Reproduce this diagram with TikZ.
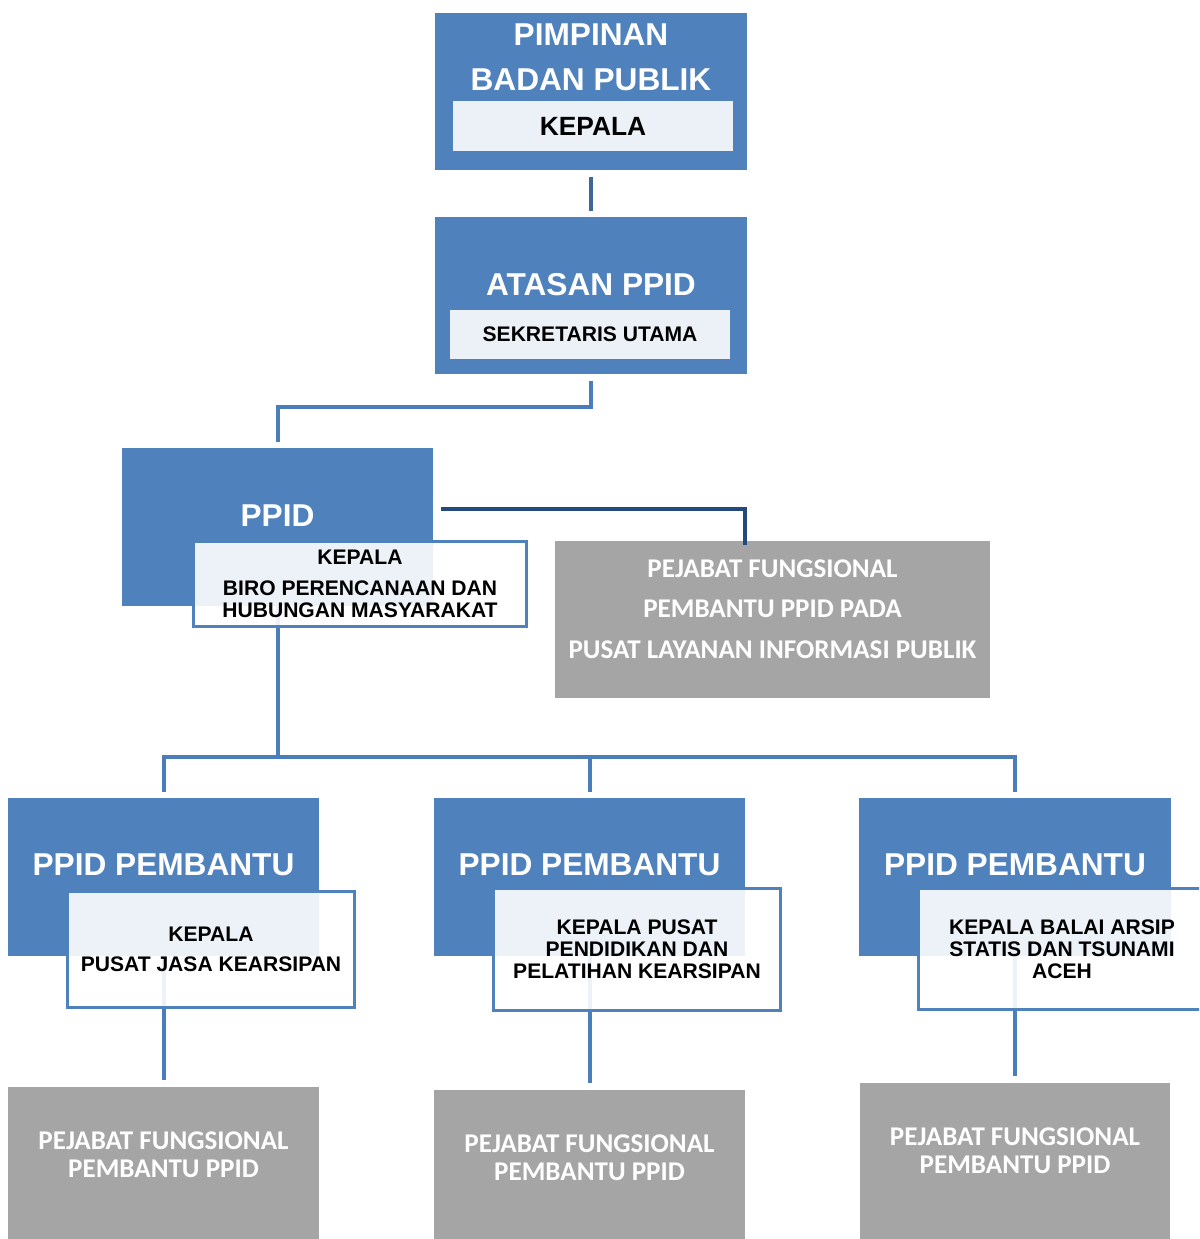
\documentclass[tikz,border=0pt]{standalone}
\usepackage{fontspec}
\setmainfont{Liberation Sans}
\newfontfamily\calibri{Carlito}
\usepackage{xcolor}
\usepackage{tikz}
\definecolor{boxblue}{HTML}{4F81BD}
\definecolor{lineblue}{HTML}{4A7EBB}
\definecolor{linemid}{HTML}{3D6797}
\definecolor{linedark}{HTML}{24497E}
\definecolor{paleblue}{HTML}{ECF1F8}
\definecolor{boxgrey}{HTML}{A5A5A5}

\begin{document}
\begin{tikzpicture}[x=0.02cm, y=-0.02cm,
  bluebox/.style={fill=boxblue, text=white, align=center, inner sep=0pt, minimum width=6.24cm, minimum height=3.16cm, text depth=#1, font=\bfseries\fontsize{18}{26}\selectfont},
  bluebox/.default=0.48cm,
  namebox/.style={fill=paleblue, inner sep=0pt, minimum width=5.6cm, minimum height=1cm},
  headbox/.style={draw=boxblue, line width=0.06cm, fill=white, fill opacity=0.9, text opacity=1, align=center, inner sep=0pt, minimum width=5.76cm, minimum height=2.4cm, font=\bfseries\fontsize{12}{12.5}\selectfont},
  greybox/.style={fill=boxgrey, text=white, align=center, inner sep=0pt, minimum width=6.22cm, minimum height=3.16cm, text depth=0.44cm, font=\calibri\bfseries\fontsize{15.4}{16}\selectfont},
  conn/.style={draw=lineblue, line width=0.08cm}]
  \useasboundingbox (0,0) rectangle (1199,1239);
  \clip (0,0) rectangle (1199,1239);

  % Pimpinan badan publik
  \node[bluebox=1.38cm] (pimp) at (591,91.5) {PIMPINAN\\BADAN PUBLIK};
  \node[namebox, font=\bfseries\fontsize{15}{18}\selectfont] (kepala) at (593,126) {KEPALA};

  % Atasan PPID
  \node[bluebox=0.46cm] (atasan) at (591,295.5) {ATASAN PPID};
  \node[namebox, minimum height=0.98cm, font=\bfseries\fontsize{12}{14}\selectfont] (sekut) at (590,334.5) {SEKRETARIS UTAMA};

  % PPID
  \node[bluebox=0.44cm] (ppid) at (277.5,527) {PPID};

  % Pejabat fungsional PLIP
  \node[greybox, minimum width=8.7cm, minimum height=3.14cm, text depth=0.42cm, font=\calibri\bfseries\fontsize{15.4}{23.2}\selectfont] (pej) at (772.5,619.5) {PEJABAT FUNGSIONAL\\PEMBANTU PPID PADA\\PUSAT LAYANAN INFORMASI PUBLIK};

  % PPID pembantu
  \node[bluebox] (pb1) at (163.5,877) {PPID PEMBANTU};
  \node[bluebox] (pb2) at (589.5,877) {PPID PEMBANTU};
  \node[bluebox] (pb3) at (1015,877) {PPID PEMBANTU};

  % Pejabat fungsional pembantu
  \node[greybox] (pf1) at (163.5,1166) {PEJABAT FUNGSIONAL\\PEMBANTU PPID};
  \node[greybox] (pf2) at (589.5,1169) {PEJABAT FUNGSIONAL\\PEMBANTU PPID};
  \node[greybox] (pf3) at (1015,1162) {PEJABAT FUNGSIONAL\\PEMBANTU PPID};

  % Connections
  \draw[conn, draw=linemid, shorten <=0.12cm, shorten >=0.1cm] (pimp) -- (atasan);
  \coordinate (jppid) at (277.5,407);
  \draw[conn, shorten <=0.12cm, shorten >=0.12cm] (atasan.south) |- (jppid) -- (ppid.north);
  \coordinate (jpej) at (745,509);
  \draw[conn, draw=linedark] ([xshift=0.14cm]ppid.east |- jpej) -- (jpej) -- ([yshift=-0.08cm]jpej |- pej.north);
  \coordinate (bus) at (277.5,757);
  \draw[conn] (ppid.south) -- (bus);
  \draw[conn, shorten <=0.12cm, shorten >=0.12cm] (pb1.north) |- (bus) -| (pb3.north);
  \draw[conn, shorten >=0.12cm] (pb2.north |- bus) -- (pb2.north);
  \foreach \i in {1,2,3}
    \draw[conn, shorten >=0.13cm] (pb\i.south) -- (pf\i.north);

  % Kepala boxes
  \node[headbox, minimum width=6.68cm, minimum height=1.72cm] (biro) at (360,584) {KEPALA\\[5pt]BIRO PERENCANAAN DAN\\HUBUNGAN MASYARAKAT};
  \node[headbox, minimum height=2.34cm] (pusjasa) at (211,949.5) {KEPALA\\[4.5pt]PUSAT JASA KEARSIPAN};
  \node[headbox, minimum height=2.46cm] (pusdiklat) at (637,949.5) {KEPALA PUSAT\\PENDIDIKAN DAN\\PELATIHAN KEARSIPAN};
  \node[headbox, minimum height=2.44cm] (balai) at (1062,949) {KEPALA BALAI ARSIP\\STATIS DAN TSUNAMI\\ACEH};
\end{tikzpicture}
\end{document}
